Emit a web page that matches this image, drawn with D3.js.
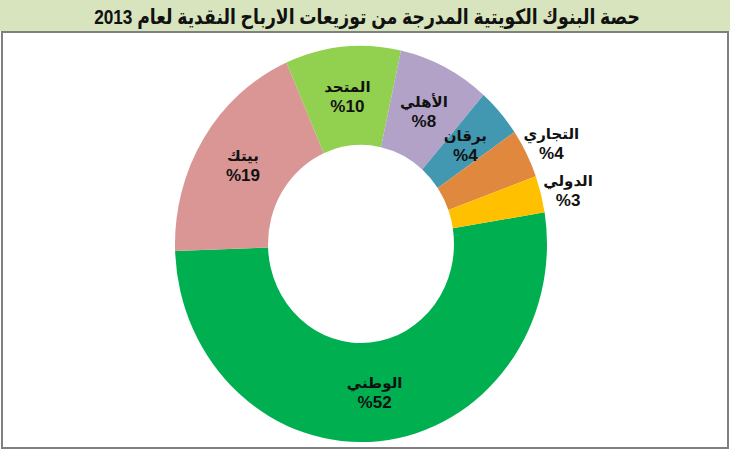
<!DOCTYPE html>
<html>
<head>
<meta charset="utf-8">
<script src="https://cdn.jsdelivr.net/npm/d3@7"></script>
<style>
  body { margin: 0; background: #fff; }
  text { font-family: "Liberation Sans", Arial, "DejaVu Sans", sans-serif; font-weight: bold; fill: #111; }
</style>
</head>
<body>
<script>
let width = 730;
let height = 450;

const title = 'حصة البنوك الكويتية المدرجة من توزيعات الارباح النقدية لعام 2013';
const banks = ['الوطني', 'بيتك', 'المتحد', 'الأهلي', 'برقان', 'التجاري', 'الدولي'];
const shares = [52, 19, 10, 8, 4, 4, 3];
const pctLabels = ['%52', '%19', '%10', '%8', '%4', '%4', '%3'];
const colors = ['#00b050', '#d99694', '#92d050', '#b3a2c7', '#4198b0', '#e0883e', '#ffc000'];
const outside = [false, false, false, false, false, true, true];

let svg = d3.select('body').append('svg')
	.attr('width', width)
	.attr('height', height);

// title band
svg.append('rect')
	.attr('x', 0).attr('y', 0)
	.attr('width', width).attr('height', 31)
	.style('fill', '#d7e4bd');

svg.append('text')
	.attr('transform', 'translate(367,24) scale(0.82,1)')
	.attr('text-anchor', 'middle')
	.style('font-size', '21px')
	.text(title);

// chart frame
svg.append('rect')
	.attr('x', 2).attr('y', 32)
	.attr('width', 726).attr('height', 416)
	.style('fill', '#fff')
	.style('stroke', '#808080')
	.style('stroke-width', 2);

const cx = 361, cy = 244, sy = 1.065;
const rIn = 93, rOut = 186;

let pie = d3.pie().sort(null)
	.startAngle(80.8 / 180 * Math.PI)
	.endAngle((80.8 + 360) / 180 * Math.PI);
let arcs = pie(shares);

let arc = d3.arc().innerRadius(rIn).outerRadius(rOut);
let outerArc = d3.arc().innerRadius(214).outerRadius(214);

let g = svg.append('g').attr('transform', 'translate(' + cx + ',' + cy + ')');

g.append('g')
	.attr('transform', 'scale(1,' + sy + ')')
	.selectAll('path')
	.data(arcs)
	.enter().append('path')
	.attr('d', arc)
	.style('fill', (d, i) => colors[i]);

let labels = g.selectAll('.lbl')
	.data(arcs)
	.enter().append('g')
	.attr('class', 'lbl')
	.attr('transform', (d, i) => {
		const c = outside[i] ? outerArc.centroid(d) : arc.centroid(d);
		return 'translate(' + c[0] + ',' + (c[1] * sy + (outside[i] ? 3 : 0)) + ')';
	});

labels.append('text')
	.attr('text-anchor', 'middle')
	.attr('y', -4)
	.style('font-size', '15px')
	.style('font-family', '"DejaVu Sans", sans-serif')
	.text((d, i) => banks[i]);

labels.append('text')
	.attr('text-anchor', 'middle')
	.attr('y', 16)
	.style('font-size', '17px')
	.text((d, i) => pctLabels[i]);
</script>
</body>
</html>
